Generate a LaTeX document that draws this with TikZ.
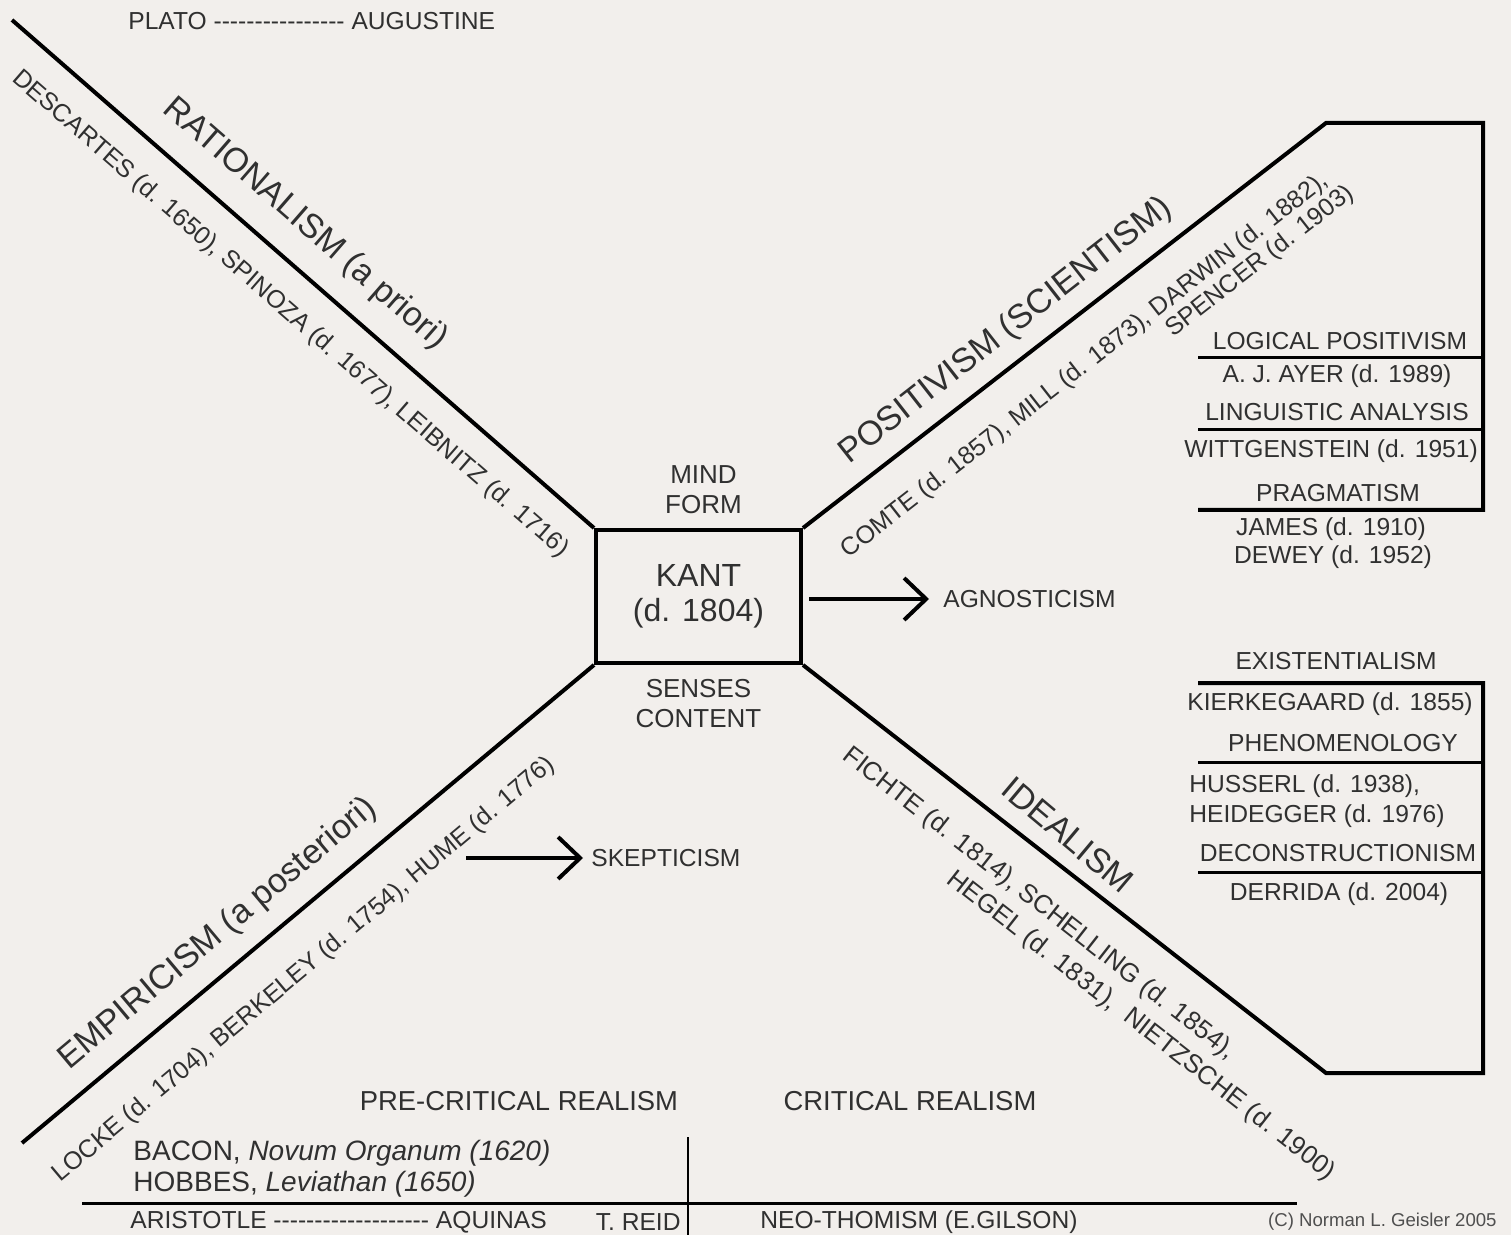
\documentclass[tikz,border=0pt]{standalone}
\usepackage{fontspec}
\setmainfont{Liberation Sans}
\usetikzlibrary{arrows.meta}
\definecolor{paper}{HTML}{F2EFEC}
\definecolor{ink}{HTML}{303030}
\newcommand\dashrun[1]{\foreach\k in {1,...,#1}{-\kern0pt}}
\tikzset{%
  >={Straight Barb[length=11pt,width=21pt]},
  % Specifications for style of nodes:
         base/.style = {text=ink, inner sep=0pt, font=\fontsize{12.3}{15}\selectfont},
       school/.style = {base, font=\fontsize{17}{20}\selectfont},
     thinkers/.style = {base, font=\fontsize{12.5}{15}\selectfont},
      kantbox/.style = {rectangle, draw=black, line width=2pt,
                        minimum width=102.5pt, minimum height=66.5pt,
                        align=center, font=\fontsize{16}{17.5}\selectfont, text=ink},
      faculty/.style = {base, align=center, font=\fontsize{13}{15}\selectfont},
      realism/.style = {base, font=\fontsize{13.7}{15}\selectfont},
       source/.style = {base, anchor=west, font=\fontsize{14}{15}\selectfont},
  % Specifications for style of lines:
       branch/.style = {line width=2pt, line join=miter},
         rule/.style = {line width=1.5pt}
}

\begin{document}
\begin{tikzpicture}[x=0.5pt, y=-0.5pt, node distance=53.5pt]
  \fill[paper] (0,0) rectangle (1511,1235);
  \useasboundingbox (0,0) rectangle (1511,1235);

  \node (kant)   [kantbox] at (698.5,596.5) {KANT\\(d. 1804)};
  \node (mind)   [faculty, above of=kant, xshift=2.5pt] {MIND\\FORM};
  \node (senses) [faculty, below of=kant]               {SENSES\\CONTENT};

  \node (plato) [base, anchor=west] at (128,21) {PLATO \dashrun{16} AUGUSTINE};

  % the four roads into Kant
  \coordinate (ratend)  at (12,20);
  \coordinate (empend)  at (22,1143);
  \coordinate (posbend) at (1326,123);
  \coordinate (postop)  at (1483,123);
  \coordinate (posfoot) at (1483,510);
  \coordinate (posrule) at (1198,510);
  \coordinate (idbend)  at (1326,1073);
  \coordinate (idfoot)  at (1483,1073);
  \coordinate (idtop)   at (1483,683);
  \coordinate (idrule)  at (1198,683);

  \draw[branch] (ratend) -- (kant.north west);
  \draw[branch] (empend) -- (kant.south west);
  \draw[branch] (kant.north east) -- (posbend) -- (postop) -- (posfoot) -- (posrule);
  \draw[branch] (kant.south east) -- (idbend) -- (idfoot) -- (idtop) -- (idrule);

  \node (ratlab)    [school, rotate=-41]   at (305,224)  {RATIONALISM (a priori)};
  \node (descartes) [thinkers, rotate=-41] at (290,314)  {DESCARTES (d. 1650), SPINOZA (d. 1677), LEIBNITZ (d. 1716)};
  \node (poslab)    [school, rotate=38]    at (1006,331) {POSITIVISM (SCIENTISM)};
  \node (comte)     [thinkers, rotate=38]  at (1085,366) {COMTE (d. 1857), MILL (d. 1873), DARWIN (d. 1882),};
  \node (spencer)   [thinkers, rotate=38]  at (1260,262) {SPENCER (d. 1903)};
  \node (emplab)    [school, rotate=40]    at (218,934)  {EMPIRICISM (a posteriori)};
  \node (locke)     [thinkers, rotate=40]  at (304,970)  {LOCKE (d. 1704), BERKELEY (d. 1754), HUME (d. 1776)};
  \node (idlab)     [school, rotate=-40]   at (1068,835) {IDEALISM};
  \node (fichte)    [thinkers, rotate=-38, font=\fontsize{13}{15}\selectfont] at (1039,904)  {FICHTE (d. 1814), SCHELLING (d. 1854),};
  \node (hegel)     [thinkers, rotate=-38, font=\fontsize{13}{15}\selectfont] at (1141,1026) {HEGEL (d. 1831),\ \ NIETZSCHE (d. 1900)};

  % outcomes
  \node (agn)  [base, anchor=west] at (943,599) {AGNOSTICISM};
  \draw[branch, ->, shorten <=3pt, shorten >=7pt] (kant.east |- agn.west) -- (agn.west);
  \coordinate (humeout) at (466,858);
  \node (skep) [base, anchor=west] at (591,858) {SKEPTICISM};
  \draw[branch, ->, shorten >=4pt] (humeout) -- (skep.west);

  % positivist offshoots
  \node (logpos) [base] at (1340,341) {LOGICAL POSITIVISM};
  \node (ayer)   [base] at (1337,376) {A. J. AYER (d. 1989)};
  \node (lingan) [base] at (1337,412) {LINGUISTIC ANALYSIS};
  \node (witt)   [base] at (1331,451) {WITTGENSTEIN (d. 1951)};
  \node (prag)   [base] at (1338,493) {PRAGMATISM};
  \node (james)  [base] at (1331,529) {JAMES (d. 1910)};
  \node (dewey)  [base] at (1333,557) {DEWEY (d. 1952)};
  \foreach \y in {358,430}
    \draw[rule] (1198,\y) -- (1483,\y);

  % idealist offshoots
  \node (exist)  [base] at (1336,661) {EXISTENTIALISM};
  \node (kierk)  [base] at (1330,704) {KIERKEGAARD (d. 1855)};
  \node (phen)   [base] at (1343,743) {PHENOMENOLOGY};
  \node (huss)   [base, anchor=west, align=left] at (1189,801) {HUSSERL (d. 1938),\\HEIDEGGER (d. 1976)};
  \node (decon)  [base] at (1338,853) {DECONSTRUCTIONISM};
  \node (derr)   [base] at (1339,894) {DERRIDA (d. 2004)};
  \foreach \y in {762,872}
    \draw[rule] (1198,\y) -- (1483,\y);

  % realism
  \node (precrit)   [realism] at (519,1101) {PRE-CRITICAL REALISM};
  \node (crit)      [realism] at (910,1101) {CRITICAL REALISM};
  \node (bacon)     [source] at (133,1153) {BACON, \textit{Novum Organum (1620)}};
  \node (hobbes)    [source] at (133,1184) {HOBBES,\ \textit{Leviathan (1650)}};
  \coordinate (baseL) at (82,1203);
  \coordinate (baseR) at (1297,1203);
  \coordinate (divtop) at (688,1137);
  \coordinate (divbot) at (688,1235);
  \draw[rule] (baseL) -- (baseR);
  \draw[line width=1pt] (divtop) -- (divbot);
  \node (aristotle) [base, anchor=west] at (130,1222) {ARISTOTLE \dashrun{19} AQUINAS};
  \node (reid)      [base, anchor=east] at (681,1222) {T. REID};
  \node (neo)       [base, anchor=west] at (760,1222) {NEO-THOMISM (E.GILSON)};
  \node (copy)      [base, anchor=east, text=ink!85, font=\fontsize{9.3}{10}\selectfont] at (1497,1222) {(C) Norman L. Geisler 2005};
\end{tikzpicture}
\end{document}
